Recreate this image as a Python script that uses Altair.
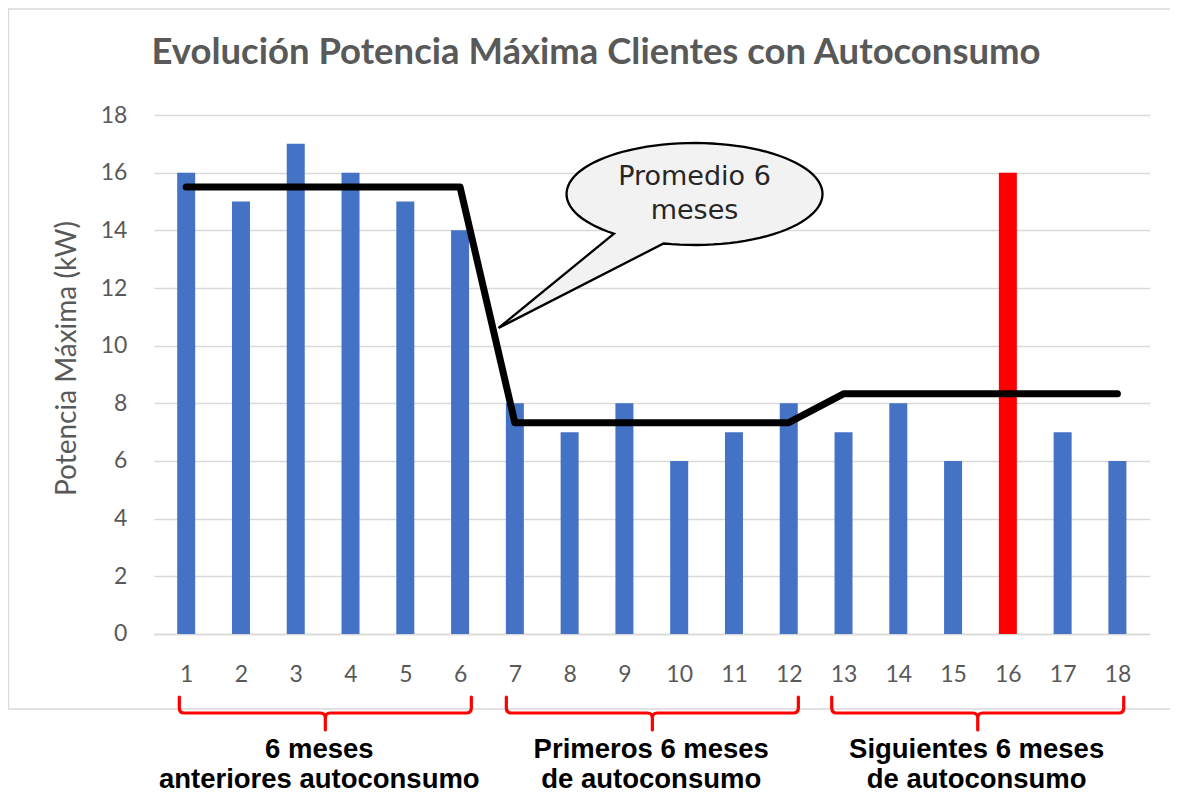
import math
import altair as alt
import pandas as pd

# ---------------- data ----------------
meses = list(range(1, 19))
potencia = [16, 15, 17, 16, 15, 14, 8, 7, 8, 6, 7, 8, 7, 8, 6, 16, 7, 6]
tipo = ["normal"] * 15 + ["pico"] + ["normal"] * 2
promedio = [15.5, 15.5, 15.5, 15.5, 15.5, 15.5,
            7.33, 7.33, 7.33, 7.33, 7.33, 7.33,
            8.33, 8.33, 8.33, 8.33, 8.33, 8.33]

grupo_linea1 = ["6 meses", "Primeros 6 meses", "Siguientes 6 meses"]
grupo_linea2 = ["anteriores autoconsumo", "de autoconsumo", "de autoconsumo"]
grupo_centro = [3.54, 9.51, 15.45]
grupo_texto_x = [3.43, 9.49, 15.43]

callout_x = [10.28]
callout_y = [15.26]
callout_texto = ["Promedio 6\nmeses"]

titulo = "Evolución Potencia Máxima Clientes con Autoconsumo"
eje_y_titulo = "Potencia Máxima (kW)"

# ---------------- geometry / style ----------------
W, H = 996, 519
PAD = {"left": 145.8, "top": 107, "right": 20, "bottom": 162}
GRID = "#d9d9d9"
TXT = "#595959"

# speech-bubble shape (ellipse + tail), unit-normalised
rx, ry = 128.0, 51.0
t1, t2 = 104.0, -231.0
n = 90
pts = []
for i in range(n + 1):
    t = math.radians(t1 + (t2 - t1) * i / n)
    pts.append((rx * math.cos(t), ry * math.sin(t)))
pts.append((-196.0, 134.0))
R = 200.0
bubble_path = "M" + " L".join(f"{x / R:.4f},{y / R:.4f}" for x, y in pts) + " Z"
bubble_size = (2 * R) ** 2

# curly brace shape
B = 146.0
brace_px = ("M -146 -16 L -146 -5 Q -146 0 -141 0 L -5 0 Q 0 0 0 5 L 0 17 "
            "M 0 5 Q 0 0 5 0 L 141 0 Q 146 0 146 -5 L 146 -16")
def _scale_path(p, s):
    out = []
    for tok in p.split():
        try:
            out.append(f"{float(tok) / s:.4f}")
        except ValueError:
            out.append(tok)
    return " ".join(out)
brace_path = _scale_path(brace_px, B)
brace_size = (2 * B) ** 2

# ---------------- tables ----------------
df = pd.DataFrame({"mes": meses, "potencia": potencia, "tipo": tipo, "promedio": promedio})
df_call = pd.DataFrame({"mes": callout_x, "potencia": callout_y, "txt": callout_texto})
df_grp = pd.DataFrame({"mes": grupo_centro, "tx": grupo_texto_x,
                       "lbl": [a + "\n" + b for a, b in zip(grupo_linea1, grupo_linea2)]})
df_one = pd.DataFrame({"k": [0]})

xscale = alt.Scale(domain=[0.5, 18.5], nice=False, zero=False)
yscale = alt.Scale(domain=[0, 18], nice=False)

x_axis = alt.Axis(values=meses, format="d", grid=False, ticks=False, tickSize=0,
                  domain=True, domainColor=GRID, domainWidth=1.3,
                  labelFont="Lato", labelFontSize=23, labelColor=TXT,
                  labelPadding=41, labelBaseline="middle", labelFlush=False)
y_axis = alt.Axis(values=list(range(0, 19, 2)), grid=True, gridColor=GRID,
                  gridWidth=1.3, ticks=False, tickSize=0, domain=False,
                  labelFont="Lato", labelFontSize=23, labelColor=TXT,
                  labelPadding=27,
                  titleFont="Lato", titleFontSize=28, titleFontWeight="normal",
                  titleColor=TXT, titleAngle=270, titleX=-86, titleY=243,
                  titleAlign="center", titleBaseline="middle")

X = alt.X("mes:Q", scale=xscale, title=None, axis=x_axis)

frame = alt.Chart(df_one).mark_rect(
    fill="white", fillOpacity=0, stroke=GRID, strokeWidth=1.3
).encode(
    x=alt.value(-145.3), x2=alt.value(1100),
    y=alt.value(-106), y2=alt.value(594),
)

bars = alt.Chart(df).mark_bar(size=18).encode(
    x=X,
    y=alt.Y("potencia:Q", scale=yscale, title=eje_y_titulo, axis=y_axis),
    color=alt.Color("tipo:N", legend=None,
                    scale=alt.Scale(domain=["normal", "pico"], range=["#4472c4", "#ff0000"])),
)

line = alt.Chart(df).mark_line(
    color="black", strokeWidth=7, strokeCap="round", strokeJoin="round"
).encode(
    x=X,
    y=alt.Y("promedio:Q", scale=yscale, title=eje_y_titulo, axis=y_axis),
)

bubble = alt.Chart(df_call).mark_point(
    shape=bubble_path, size=bubble_size, filled=True, fill="#f2f2f2",
    stroke="black", strokeWidth=2.3, opacity=1, fillOpacity=1, strokeOpacity=1
).encode(
    x=X,
    y=alt.Y("potencia:Q", scale=yscale, title=eje_y_titulo, axis=y_axis),
)

bubble_text = alt.Chart(df_call).mark_text(
    font="DejaVu Sans", fontSize=27, color="#262626", lineBreak="\n",
    lineHeight=34, align="center", baseline="middle", dy=-17
).encode(
    x=X,
    y=alt.Y("potencia:Q", scale=yscale, title=eje_y_titulo, axis=y_axis),
    text="txt:N",
)

braces = alt.Chart(df_grp).mark_point(
    shape=brace_path, size=brace_size, filled=False, stroke="#ff0000",
    strokeWidth=3.2, opacity=1, strokeCap="round"
).encode(
    x=X,
    y=alt.value(598),
)

grp_text = alt.Chart(df_grp).mark_text(
    font="Liberation Sans", fontSize=27.5, fontWeight="bold", color="black",
    lineBreak="\n", lineHeight=30, align="center", baseline="alphabetic"
).encode(
    x=alt.X("tx:Q", scale=xscale, title=None, axis=x_axis),
    y=alt.value(643),
    text="lbl:N",
)

title_txt = alt.Chart(df_one).mark_text(
    text=titulo, font="Lato", fontSize=36.5, fontWeight="bold", color=TXT,
    align="center", baseline="alphabetic"
).encode(
    x=alt.value(442.2), y=alt.value(-51),
)

chart = alt.layer(
    frame, bars, line, bubble, bubble_text, braces, grp_text, title_txt
).properties(
    width=W, height=H, padding=PAD,
    autosize=alt.AutoSizeParams(type="none"),
    background="white",
).configure_view(stroke=None)

chart.save("out.html", embed_options={"renderer": "svg", "actions": False})
